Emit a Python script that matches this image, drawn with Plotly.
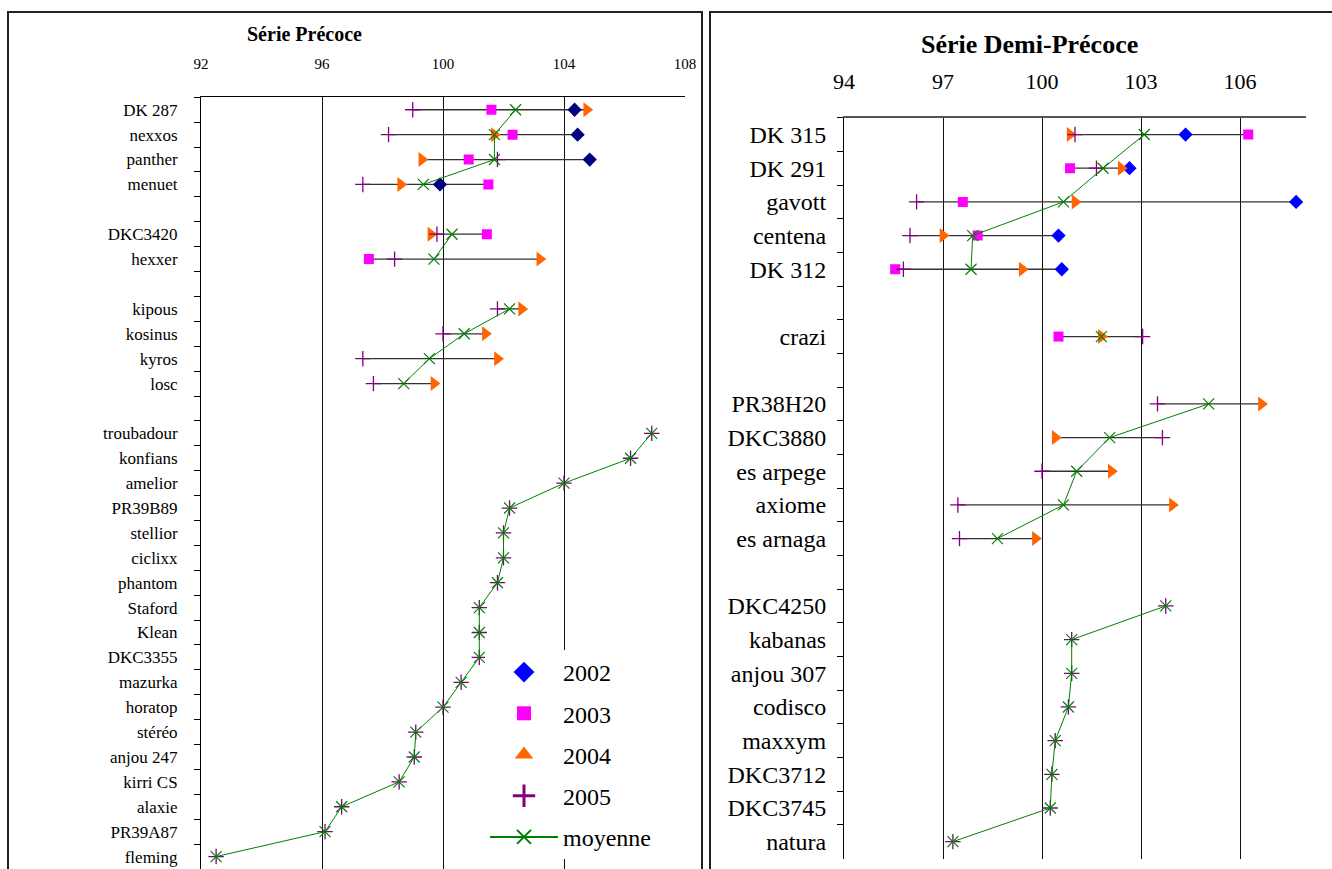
import plotly.graph_objects as go

N = None
FONT = "Liberation Serif"

# ---------------- Left panel: Série Précoce ----------------
left_cats = ["DK 287", "nexxos", "panther", "menuet", " ",
             "DKC3420", "hexxer", "  ",
             "kipous", "kosinus", "kyros", "losc", "   ",
             "troubadour", "konfians", "amelior", "PR39B89", "stellior", "ciclixx",
             "phantom", "Staford", "Klean", "DKC3355", "mazurka", "horatop",
             "stéréo", "anjou 247", "kirri CS", "alaxie", "PR39A87", "fleming"]
left_2002 = [104.35, 104.45, 104.85, 99.9, N,
             N, N, N,
             N, N, N, N, N,
             N, N, N, N, N, N, N, N, N, N, N, N, N, N, N, N, N, N]
left_2003 = [101.6, 102.3, 100.85, 101.5, N,
             101.45, 97.55, N,
             N, N, N, N, N,
             N, N, N, N, N, N, N, N, N, N, N, N, N, N, N, N, N, N]
left_2004 = [104.75, 101.7, 99.3, 98.6, N,
             99.6, 103.2, N,
             102.6, 101.4, 101.8, 99.7, N,
             N, N, N, N, N, N, N, N, N, N, N, N, N, N, N, N, N, N]
left_2005 = [99.0, 98.2, 101.8, 97.35, N,
             99.8, 98.4, N,
             101.8, 100.0, 97.35, 97.7, N,
             106.9, 106.2, 104.0, 102.2, 102.0, 102.0, 101.8, 101.2, 101.2, 101.2,
             100.6, 100.0, 99.1, 99.05, 98.55, 96.65, 96.1, 92.5]
left_moy = [102.4, 101.7, 101.7, 99.35, N,
            100.3, 99.7, N,
            102.2, 100.7, 99.55, 98.7, N,
            106.9, 106.2, 104.0, 102.2, 102.0, 102.0, 101.8, 101.2, 101.2, 101.2,
            100.6, 100.0, 99.1, 99.05, 98.55, 96.65, 96.1, 92.5]

# ---------------- Right panel: Série Demi-Précoce ----------------
right_cats = ["DK 315", "DK 291", "gavott", "centena", "DK 312", " ",
              "crazi", "  ",
              "PR38H20", "DKC3880", "es arpege", "axiome", "es arnaga", "   ",
              "DKC4250", "kabanas", "anjou 307", "codisco", "maxxym", "DKC3712",
              "DKC3745", "natura"]
right_2002 = [104.35, 102.65, 107.7, 100.5, 100.6, N,
              N, N,
              N, N, N, N, N, N,
              N, N, N, N, N, N, N, N]
right_2003 = [106.25, 100.85, 97.6, 98.05, 95.55, N,
              100.5, N,
              N, N, N, N, N, N,
              N, N, N, N, N, N, N, N]
right_2004 = [100.85, 102.4, 101.0, 97.0, 99.4, N,
              101.8, N,
              106.65, 100.4, 102.1, 103.95, 99.8, N,
              N, N, N, N, N, N, N, N]
right_2005 = [101.0, 101.65, 96.2, 96.0, 95.8, N,
              103.05, N,
              103.5, 103.65, 100.0, 97.45, 97.5, N,
              103.75, 100.9, 100.9, 100.8, 100.4, 100.3, 100.25, 97.3]
right_moy = [103.1, 101.85, 100.65, 97.9, 97.85, N,
             101.8, N,
             105.05, 102.05, 101.05, 100.65, 98.65, N,
             103.75, 100.9, 100.9, 100.8, 100.4, 100.3, 100.25, 97.3]

col_2002_left = "#000080"
col_2002 = "#0000FF"
col_2003 = "#FF00FF"
col_2004 = "#FF6600"
col_2005 = "#800080"
col_moy = "#008000"

W, H = 1332, 869


def px_x(p):
    return p / W


def px_y(p):
    return 1 - p / H


fig = go.Figure()


def add_panel(cats, s02, s03, s04, s05, moy, xa, ya, c02):
    # high-low range line per row
    lx, ly = [], []
    for i, c in enumerate(cats):
        vals = [v for v in (s02[i], s03[i], s04[i], s05[i]) if v is not None]
        if len(vals) >= 2:
            lx += [min(vals), max(vals), None]
            ly += [c, c, None]
    fig.add_trace(go.Scatter(x=lx, y=ly, mode="lines", xaxis=xa, yaxis=ya,
                             line=dict(color="#333333", width=1.3),
                             showlegend=False, hoverinfo="skip"))
    fig.add_trace(go.Scatter(x=s02, y=cats, mode="markers", xaxis=xa, yaxis=ya,
                             marker=dict(symbol="diamond", size=11, color=c02),
                             showlegend=False, name="2002"))
    fig.add_trace(go.Scatter(x=s03, y=cats, mode="markers", xaxis=xa, yaxis=ya,
                             marker=dict(symbol="square", size=10, color=col_2003),
                             showlegend=False, name="2003"))
    fig.add_trace(go.Scatter(x=s04, y=cats, mode="markers", xaxis=xa, yaxis=ya,
                             marker=dict(symbol="triangle-right", size=13, color=col_2004),
                             showlegend=False, name="2004"))
    fig.add_trace(go.Scatter(x=s05, y=cats, mode="markers", xaxis=xa, yaxis=ya,
                             marker=dict(symbol="cross-thin-open", size=11, color=col_2005,
                                         line=dict(color=col_2005, width=1.3)),
                             showlegend=False, name="2005"))
    fig.add_trace(go.Scatter(x=moy, y=cats, mode="lines+markers", xaxis=xa, yaxis=ya,
                             line=dict(color=col_moy, width=1),
                             marker=dict(symbol="x-thin-open", size=11, color=col_moy,
                                         line=dict(color=col_moy, width=1.2)),
                             showlegend=False, name="moyenne"))


add_panel(left_cats, left_2002, left_2003, left_2004, left_2005, left_moy, "x", "y", col_2002_left)
add_panel(right_cats, right_2002, right_2003, right_2004, right_2005, right_moy, "x2", "y2", col_2002)

# legend entries
leg = [
    ("2002", dict(symbol="diamond", size=16, color=col_2002), "markers", None),
    ("2003", dict(symbol="square", size=14, color=col_2003), "markers", None),
    ("2004", dict(symbol="triangle-up", size=16, color=col_2004), "markers", None),
    ("2005", dict(symbol="cross-thin-open", size=20, color=col_2005,
                  line=dict(color=col_2005, width=3)), "markers", None),
    ("moyenne", dict(symbol="x-thin-open", size=14, color=col_moy,
                     line=dict(color=col_moy, width=2)), "lines+markers",
     dict(color=col_moy, width=2)),
]
for name, mk, mode, ln in leg:
    kw = dict(x=[None], y=[None], mode=mode, marker=mk, name=name,
              legendgroup=name, xaxis="x", yaxis="y", showlegend=True)
    if ln:
        kw["line"] = ln
    fig.add_trace(go.Scatter(**kw))

axis_font_l = dict(family=FONT, size=15, color="black")
axis_font_r = dict(family=FONT, size=22, color="black")

fig.update_layout(
    template="none",
    width=W, height=H, autosize=False,
    margin=dict(l=0, r=0, t=0, b=0, pad=0, autoexpand=False),
    paper_bgcolor="white", plot_bgcolor="white",
    font=dict(family=FONT, color="black"),
    xaxis=dict(domain=[px_x(201), px_x(685)], range=[92, 108], tick0=92, dtick=4,
               side="top", anchor="y", showgrid=True, gridcolor="#111111", gridwidth=1,
               showline=True, linecolor="black", linewidth=1, ticks="",
               zeroline=False, tickfont=axis_font_l, ticklabelstandoff=21,
               automargin=False),
    yaxis=dict(domain=[0, px_y(97.3)], type="category", categoryarray=left_cats,
               categoryorder="array", range=[len(left_cats) - 0.5, -0.5],
               anchor="x", tickson="boundaries", ticks="outside", ticklen=6,
               tickcolor="black", showline=True, linecolor="black", linewidth=1,
               showgrid=False, zeroline=False, automargin=False,
               tickfont=dict(family=FONT, size=17, color="black"), ticklabelstandoff=19),
    xaxis2=dict(domain=[px_x(844), px_x(1306)], range=[94, 108], tick0=94, dtick=3,
                side="top", anchor="y2", showgrid=True, gridcolor="#111111", gridwidth=1,
                showline=True, linecolor="#555555", linewidth=2, ticks="",
                zeroline=False, tickfont=axis_font_r, ticklabelstandoff=18,
                automargin=False),
    yaxis2=dict(domain=[px_y(858.5), px_y(117.7)], type="category", categoryarray=right_cats,
                categoryorder="array", range=[len(right_cats) - 0.5, -0.5],
                anchor="x2", tickson="boundaries", ticks="outside", ticklen=6,
                tickcolor="black", showline=True, linecolor="black", linewidth=1,
                showgrid=False, zeroline=False, automargin=False,
                tickfont=dict(family=FONT, size=24, color="black"), ticklabelstandoff=12),
    legend=dict(x=px_x(485), y=px_y(650), xanchor="left", yanchor="top",
                bgcolor="white", borderwidth=0, traceorder="grouped",
                tracegroupgap=7, itemwidth=68,
                font=dict(family=FONT, size=24, color="black")),
    showlegend=True,
    shapes=[
        dict(type="rect", xref="paper", yref="paper", x0=px_x(8), x1=px_x(702),
             y0=-0.05, y1=px_y(12), line=dict(color="#222222", width=2)),
        dict(type="rect", xref="paper", yref="paper", x0=px_x(710), x1=1.05,
             y0=-0.05, y1=px_y(12), line=dict(color="#222222", width=2)),
    ],
    annotations=[
        dict(text="<b>Série Précoce</b>", x=px_x(304.5), y=px_y(34), xref="paper",
             yref="paper", showarrow=False, xanchor="center", yanchor="middle",
             font=dict(family=FONT, size=20, color="black")),
        dict(text="<b>Série Demi-Précoce</b>", x=px_x(1029), y=px_y(45), xref="paper",
             yref="paper", showarrow=False, xanchor="center", yanchor="middle",
             font=dict(family=FONT, size=26, color="black")),
    ],
)

fig.write_html("out.html", config={"displayModeBar": False, "responsive": False},
               post_script="document.body.style.margin='0';document.body.style.overflow='hidden';")
